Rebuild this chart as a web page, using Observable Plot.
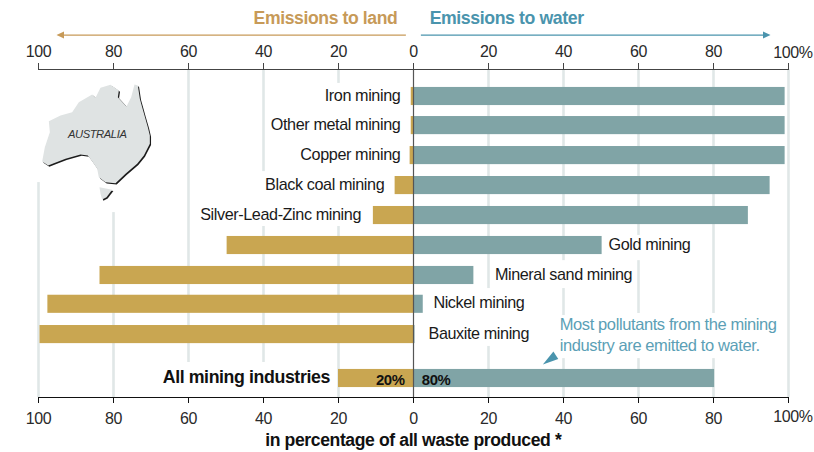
<!DOCTYPE html>
<html><head><meta charset="utf-8">
<script src="https://cdn.jsdelivr.net/npm/d3@7"></script>
<script src="https://cdn.jsdelivr.net/npm/@observablehq/plot@0.6"></script>
<style>html,body{margin:0;padding:0;background:#fff}svg{display:block}</style>
</head><body><div id="chart"></div>
<script>
const categories = ["Iron mining","Other metal mining","Copper mining","Black coal mining","Silver-Lead-Zinc mining","Gold mining","Mineral sand mining","Nickel mining","Bauxite mining","All mining industries"];
const rowIndex = [0,0.98,1.99,3,4.01,5.02,6.03,7,8.02,9.5];
const toLand = [0.6,0.6,0.9,4.9,10.7,49.7,83.6,97.5,99.6,20];
const toWater = [99.1,99.1,99.1,95.1,89.3,50.3,16.1,2.6,0.4,80.3];
const labelAt = [-3.5,-3.5,-3.5,-7.8,-14,52,21.7,5.3,4,-22.3];
const labelSide = ["end","end","end","end","end","start","start","start","start","end"];
const tickValues = [-100,-80,-60,-40,-20,0,20,40,60,80,100];
// gridline pieces: [value, from row, to row]
const gridPieces = [
 [-100,2.9,10.14],[-80,3.91,10.14],[-60,-0.91,8.96],[-40,-0.91,2.53],[-40,4.38,8.96],
 [-20,-0.91,-0.44],[-20,4.38,10.14],
 [20,-0.91,6.47],[20,8.42,10.14],
 [40,-0.91,5.53],[40,6.47,7.38],[40,8.83,10.14],
 [60,-0.91,4.68],[60,5.53,7.31],[60,8.83,10.14],
 [80,-0.91,7.31],[80,8.83,10.14],[100,-0.91,10.14]
];
// outline of the inset map, in its own units
const mainlandU = [125,133,148,145,180,215,235,275,285,300,330,355,352,378,392,402,412,418,425,432,442,448,448,430,410,375,345,315,295,290,280,262,240,195,160,143];
const mainlandV = [483,440,395,362,345,335,305,282,292,262,253,270,290,318,290,252,255,295,320,345,380,405,430,465,490,520,548,545,530,505,490,465,462,475,488,495];
const tasmaniaU = [297,335,318,305,300];
const tasmaniaV = [560,568,590,597,580];

const px = u => (u / 3 - 413) / 3.75;
const py = v => (v / 3 - 96) / 29.68;
const shape = (U, V) => U.map((u, i) => ({x: px(u), y: py(V[i])}));
const mainland = shape(mainlandU, mainlandV);
const tasmania = shape(tasmaniaU, tasmaniaV);

const rows = categories.map((name, i) => ({name, row: rowIndex[i], land: toLand[i], water: toWater[i], at: labelAt[i], side: labelSide[i]}));
const grid = gridPieces.map(([x, a, b]) => ({x, a, b}));

const font = "'Liberation Sans', Arial, sans-serif";
const fmt = d => d === 100 ? "" : String(Math.abs(d));
const half = 0.305;
const landColor = "#c9a651", waterColor = "#80a4a6";
const landTitle = "#c79a58", waterTitle = "#4a94ad", noteColor = "#5b9fb6";

const plot = Plot.plot({
  width: 814, height: 452,
  marginLeft: 38, marginRight: 26, marginTop: 69, marginBottom: 55,
  style: {fontFamily: font, fontSize: "16px", letterSpacing: "-0.4px", background: "#fff", overflow: "visible"},
  x: {domain: [-100, 100], axis: null},
  y: {domain: [0, 9.5], range: [96, 378], axis: null},
  marks: [
    Plot.ruleX(grid, {x: "x", y1: "a", y2: "b", stroke: "#e0e7e7", strokeWidth: 2.6}),
    Plot.line(mainland, {x: "x", y: "y", fill: "#1c1c1c", stroke: "none", dx: 1.2, dy: 1.2}),
    Plot.line(tasmania, {x: "x", y: "y", fill: "#1c1c1c", stroke: "none", dx: 1.2, dy: 1.2}),
    Plot.line(mainland, {x: "x", y: "y", fill: "#dfe3e3", stroke: "none"}),
    Plot.line(tasmania, {x: "x", y: "y", fill: "#dfe3e3", stroke: "none"}),
    Plot.text(["AUSTRALIA"], {x: px(290), y: py(403), text: d => d, fontSize: 11.2, fontStyle: "italic", fill: "#333", textAnchor: "middle"}),
    Plot.rect(rows, {x1: d => -d.land, x2: 0, y1: d => d.row - half, y2: d => d.row + half, fill: landColor}),
    Plot.rect(rows, {x1: 0, x2: "water", y1: d => d.row - half, y2: d => d.row + half, fill: waterColor}),
    Plot.ruleX([0], {stroke: "#555", strokeWidth: 1.2}),
    Plot.frame({anchor: "top", stroke: "#444"}),
    Plot.frame({anchor: "bottom", stroke: "#111"}),
    Plot.axisX({anchor: "top", ticks: tickValues, tickFormat: fmt, tickSize: 7, tickPadding: 6, label: null, stroke: "#444", fill: "#2a2a2a", fontSize: 16}),
    Plot.axisX({anchor: "bottom", ticks: tickValues, tickFormat: fmt, tickSize: 6, tickPadding: 9, label: null, stroke: "#111", fill: "#2a2a2a", fontSize: 16}),
    Plot.text(["100%"], {x: 100, y: -1.46, text: d => d, dx: 4.5, fontSize: 16, fill: "#2a2a2a"}),
    Plot.text(["100%"], {x: 100, y: 10.8, text: d => d, dx: 4.5, fontSize: 16, fill: "#2a2a2a"}),
    Plot.text(rows.filter(d => d.row < 9 && d.side === "end"), {x: "at", y: "row", text: "name", textAnchor: "end", dy: -1, fontSize: 16.2, fill: "#1a1a1a"}),
    Plot.text(rows.filter(d => d.row < 9 && d.side === "start"), {x: "at", y: "row", text: "name", textAnchor: "start", dy: -1, fontSize: 16.2, fill: "#1a1a1a"}),
    Plot.text(rows.filter(d => d.row > 9), {x: "at", y: "row", text: "name", textAnchor: "end", dy: -1, fontWeight: "bold", fontSize: 17.75, fill: "#111"}),
    Plot.text(["20%"], {x: -2.4, y: 9.56, text: d => d, textAnchor: "end", fontWeight: "bold", fontSize: 14.9, fill: "#111"}),
    Plot.text(["80%"], {x: 2.2, y: 9.56, text: d => d, textAnchor: "start", fontWeight: "bold", fontSize: 14.9, fill: "#111"}),
    Plot.text(["Emissions to land"], {x: -4.3, y: -2.64, text: d => d, textAnchor: "end", fontWeight: "bold", fontSize: 17.6, fill: landTitle}),
    Plot.text(["Emissions to water"], {x: 4.3, y: -2.64, text: d => d, textAnchor: "start", fontWeight: "bold", fontSize: 17.7, fill: waterTitle}),
    Plot.ruleY([-2.07], {x1: -93.4, x2: -1.9, stroke: landTitle, strokeWidth: 1.3}),
    Plot.ruleY([-2.07], {x1: 2.1, x2: 93.4, stroke: waterTitle, strokeWidth: 1.3}),
    Plot.line([{x:-95.2,y:-2.07},{x:-93.2,y:-2.19},{x:-93.2,y:-1.95}], {x:"x", y:"y", fill: landTitle, stroke:"none"}),
    Plot.line([{x:95.2,y:-2.07},{x:93.2,y:-2.19},{x:93.2,y:-1.95}], {x:"x", y:"y", fill: waterTitle, stroke:"none"}),
    Plot.text(["Most pollutants from the mining"], {x: 39, y: 7.7, text: d => d, textAnchor: "start", fontSize: 16.5, fill: noteColor}),
    Plot.text(["industry are emitted to water."], {x: 39, y: 8.39, text: d => d, textAnchor: "start", fontSize: 16.5, fill: noteColor}),
    Plot.line([{x:34.5,y:9.03},{x:37.3,y:8.59},{x:38.6,y:8.84}], {x:"x", y:"y", fill: waterTitle, stroke:"none"}),
    Plot.text(["in percentage of all waste produced *"], {x: -0.05, y: 11.59, text: d => d, fontWeight: "bold", fontSize: 17.6, fill: "#111"})
  ]
});
document.getElementById("chart").append(plot);
</script></body></html>
